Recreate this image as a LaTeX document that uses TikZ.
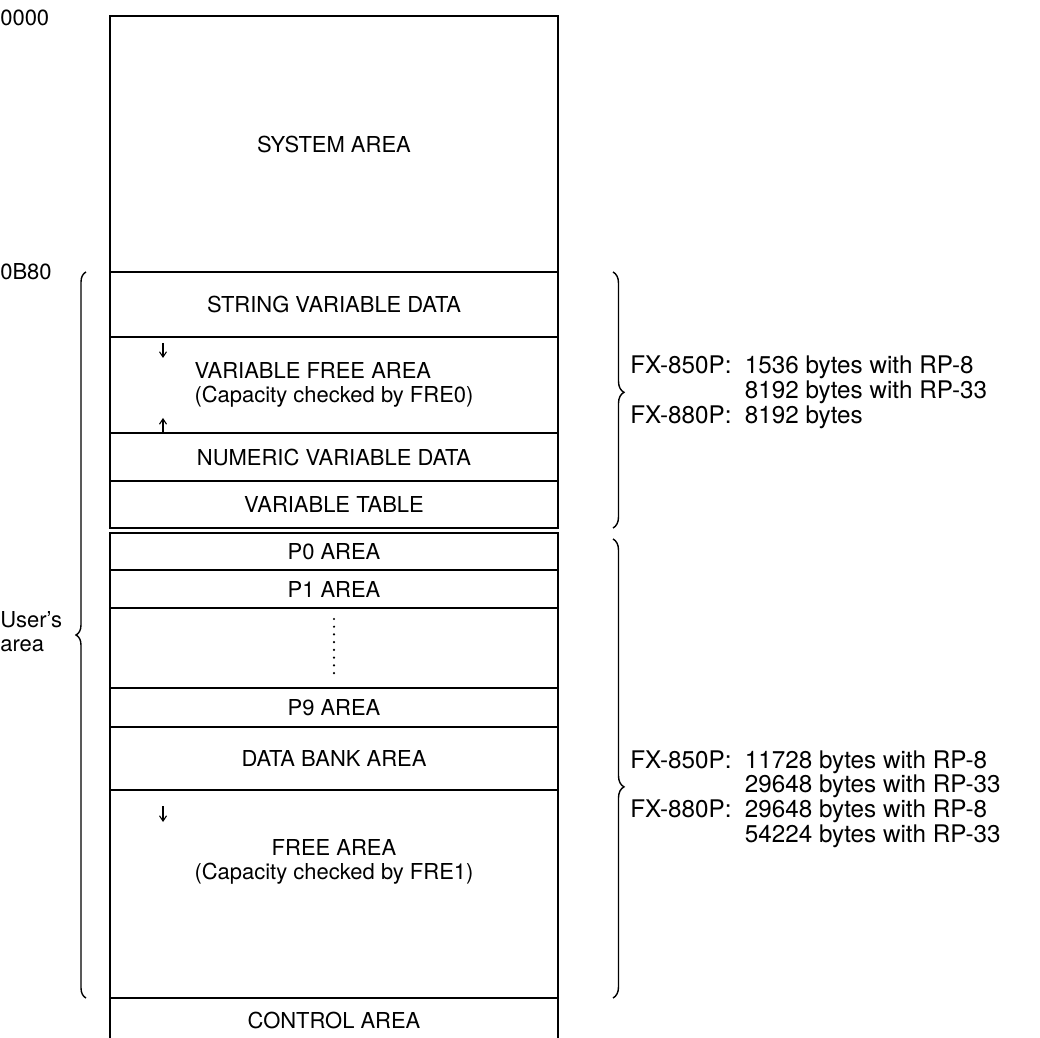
\documentclass[tikz,border=0pt]{standalone}
\usepackage{fontspec}
\setmainfont{TeX Gyre Heros}
\usetikzlibrary{arrows.meta, positioning, decorations.pathreplacing}

\begin{document}
\begin{tikzpicture}[x=0.2mm, y=-0.2mm, font=\fontsize{12.5}{13.5}\selectfont, >={Straight Barb[length=3pt, width=4pt]},
  area/.style={draw, line width=1pt, minimum width=8.96cm, inner sep=0pt, outer sep=0pt, align=center},
  addr/.style={anchor=west, inner sep=0pt, align=left},
  brc/.style={decorate, line width=0.8pt},
  note/.style={anchor=west, inner sep=0pt, font=\fontsize{13.8}{13.5}\selectfont}]
\useasboundingbox (0,0) rectangle (1040,1038);
% memory blocks, top to bottom
\node[area, minimum height=5.12cm, anchor=north] (sys) at (334,16) {SYSTEM AREA};
\node[area, minimum height=1.30cm, below=0pt of sys] (str) {STRING VARIABLE DATA};
\node[area, minimum height=1.92cm, below=0pt of str, align=left] (vfree) {VARIABLE FREE AREA\\(Capacity checked by FRE0)};
\node[area, minimum height=0.96cm, below=0pt of vfree] (num) {NUMERIC VARIABLE DATA};
\node[area, minimum height=0.94cm, below=0pt of num] (vtab) {VARIABLE TABLE};
\node[area, minimum height=0.74cm, below=1mm of vtab] (p0) {P0 AREA};
\node[area, minimum height=0.76cm, below=0pt of p0] (p1) {P1 AREA};
\node[area, minimum height=1.60cm, below=0pt of p1] (pdots) {};
\node[area, minimum height=0.78cm, below=0pt of pdots] (p9) {P9 AREA};
\node[area, minimum height=1.26cm, below=0pt of p9] (bank) {DATA BANK AREA};
\node[area, minimum height=4.16cm, below=0pt of bank] (free) {};
\node[area, minimum height=0.90cm, below=0pt of free] (ctrl) {CONTROL AREA};
\node[align=center, inner sep=0pt] (freetxt) at (334,862) {FREE AREA\\(Capacity checked by FRE1)};
\draw[line width=1.4pt, line cap=round, dash pattern=on 0pt off 4.4pt] (334,619) -- (334,678);
% growth arrows
\draw[->, line width=0.6pt] (163,343) -- (163,358);
\draw[->, line width=0.6pt] (163,432) -- (163,418);
\draw[->, line width=0.6pt] (163,806) -- (163,822);
% addresses
\node[addr] (a0000) at (0,18) {0000};
\node[addr] (a0b80) at (0,272) {0B80};
\node[addr] (user) at (0,632) {User's\\area};
% braces
\draw[brc, decoration={brace, amplitude=2mm}] (86,998) -- (86,272);
\draw[brc, decoration={brace, amplitude=2.2mm, aspect=0.47}] (613,272) -- (613,528);
\draw[brc, decoration={brace, amplitude=2.2mm, aspect=0.54}] (613,539) -- (613,998);
\node[note] (fx1) at (630,393) {\begin{tabular}{@{}l@{\hspace{0.55em}}l@{}}FX-850P: & 1536 bytes with RP-8\\ & 8192 bytes with RP-33\\FX-880P: & 8192 bytes\end{tabular}};
\node[note] (fx2) at (630,800) {\begin{tabular}{@{}l@{\hspace{0.55em}}l@{}}FX-850P: & 11728 bytes with RP-8\\ & 29648 bytes with RP-33\\FX-880P: & 29648 bytes with RP-8\\ & 54224 bytes with RP-33\end{tabular}};
\end{tikzpicture}
\end{document}
